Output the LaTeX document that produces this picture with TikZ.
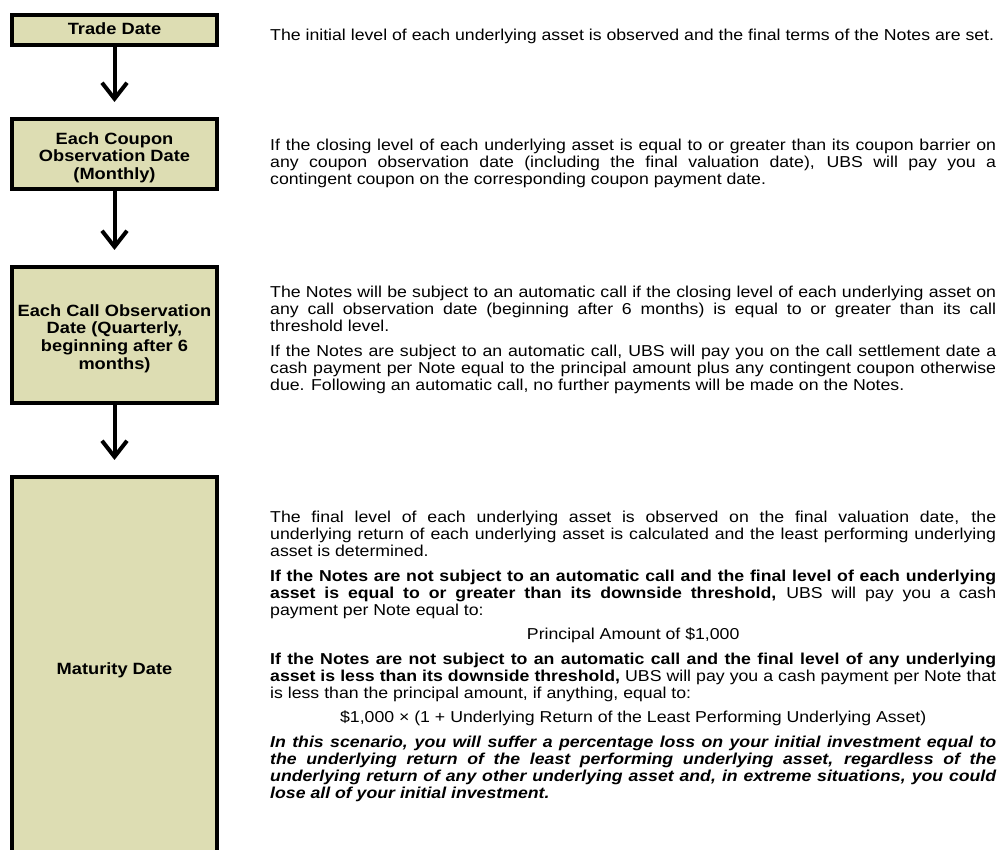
\documentclass[tikz,border=0pt]{standalone}
\usepackage{fontspec}
\setmainfont{Liberation Sans}[FakeStretch=1.12]
\usetikzlibrary{arrows.meta}
\definecolor{boxfill}{RGB}{221,221,179}
\hbadness=10000
\begin{document}
\begin{tikzpicture}[x=1pt,y=-1pt,
  datebox/.style={draw=black, line width=4pt, fill=boxfill, minimum width=205pt, inner sep=0pt, anchor=north},
  lbl/.style={font=\bfseries\fontsize{16.3}{17.8}\selectfont, align=center, inner sep=0pt, anchor=north},
  body/.style={font=\fontsize{15.8}{17}\selectfont, text width=726pt, align=justify, inner sep=0pt, anchor=north west},
  arr/.style={line width=4pt, -{Straight Barb[length=16pt,width=25pt]}, shorten >=15pt}]
\clip (0,0) rectangle (1005,850);
\fill[white] (0,0) rectangle (1005,850);
% boxes
\node[datebox, minimum height=30pt] (trade) at (114.5,13) {};
\node[datebox, minimum height=70pt] (coupon) at (114.5,117) {};
\node[datebox, minimum height=136pt] (call) at (114.5,265) {};
\node[datebox, minimum height=386pt] (mat) at (114.5,475) {};
% labels
\node[lbl] (tradelbl) at (114.5,20) {\rule{0pt}{14pt}Trade Date};
\node[lbl] (couponlbl) at (114.5,130) {\rule{0pt}{14pt}Each Coupon\\Observation Date\\(Monthly)};
\node[lbl] (calllbl) at (114.5,302) {\rule{0pt}{14pt}Each Call Observation\\Date (Quarterly,\\beginning after 6\\months)};
\node[lbl] (matlbl) at (114.5,660) {\rule{0pt}{14pt}Maturity Date};
% arrows
\draw[arr] (trade.south) -- (coupon.north);
\draw[arr] (coupon.south) -- (call.north);
\draw[arr] (call.south) -- (mat.north);
% body texts
\node[body] (tradetxt) at (270,26.5) {\setlength{\parindent}{0pt}\rule{0pt}{14pt}The initial level of each underlying asset is observed and the final terms of the Notes are set.};
\node[body] (coupontxt) at (270,136.5) {\setlength{\parindent}{0pt}\rule{0pt}{14pt}If the closing level of each underlying asset is equal to or greater than its coupon barrier on\linebreak any coupon observation date (including the final valuation date), UBS will pay you a\linebreak contingent coupon on the corresponding coupon payment date.};
\node[body] (calltxt) at (270,283.5) {\setlength{\parindent}{0pt}\setlength{\parskip}{7.5pt}\rule{0pt}{14pt}The Notes will be subject to an automatic call if the closing level of each underlying asset on\linebreak any call observation date (beginning after 6 months) is equal to or greater than its call\linebreak threshold level.\par
If the Notes are subject to an automatic call, UBS will pay you on the call settlement date a\linebreak cash payment per Note equal to the principal amount plus any contingent coupon otherwise\linebreak due. Following an automatic call, no further payments will be made on the Notes.};
\node[body] (mattxt) at (270,508.5) {\setlength{\parindent}{0pt}\setlength{\parskip}{7.5pt}\rule{0pt}{14pt}The final level of each underlying asset is observed on the final valuation date, the\linebreak underlying return of each underlying asset is calculated and the least performing underlying\linebreak asset is determined.\par
\textbf{If the Notes are not subject to an automatic call and the final level of each underlying\linebreak asset is equal to or greater than its downside threshold,} UBS will pay you a cash\linebreak payment per Note equal to:\par
{\centering Principal Amount of \$1,000\par}
\textbf{If the Notes are not subject to an automatic call and the final level of any underlying\linebreak asset is less than its downside threshold,} UBS will pay you a cash payment per Note that\linebreak is less than the principal amount, if anything, equal to:\par
{\centering \$1,000 × (1 + Underlying Return of the Least Performing Underlying Asset)\par}
\textbf{\textit{In this scenario, you will suffer a percentage loss on your initial investment equal to\linebreak the underlying return of the least performing underlying asset, regardless of the\linebreak underlying return of any other underlying asset and, in extreme situations, you could\linebreak lose all of your initial investment.}}};
\end{tikzpicture}
\end{document}
